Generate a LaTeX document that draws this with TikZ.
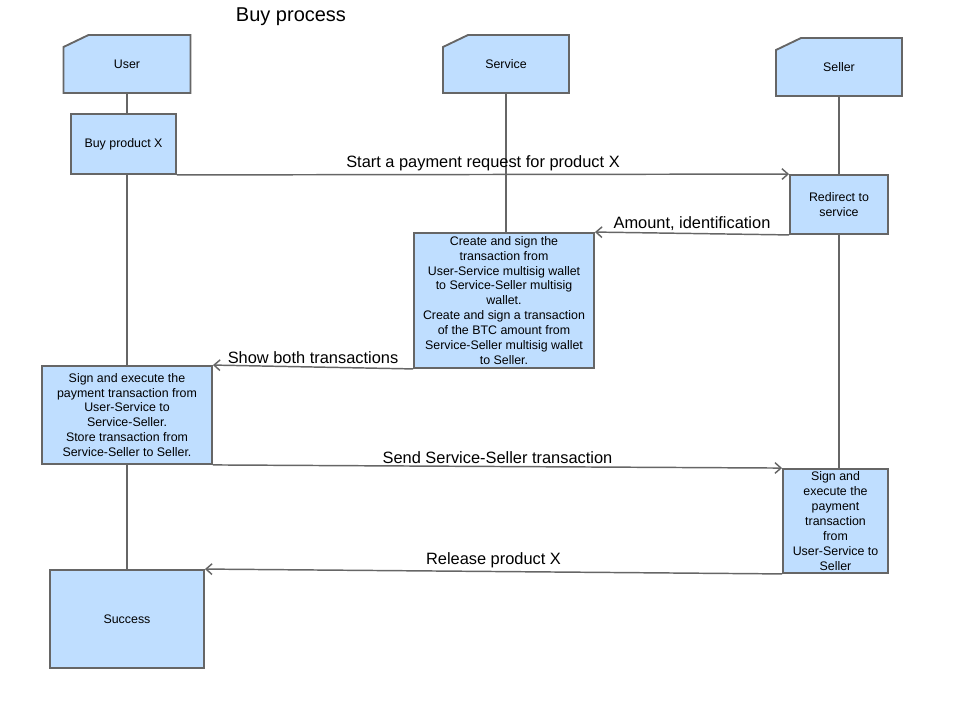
\documentclass[tikz,border=0pt]{standalone}
\usepackage{fontspec}
\setmainfont{Liberation Sans}
\usetikzlibrary{positioning,arrows.meta}
\definecolor{boxblue}{RGB}{191,222,255}
\definecolor{linegray}{RGB}{102,102,102}

\begin{document}
\begin{tikzpicture}[x=0.75pt, y=-0.75pt,
  box/.style={draw=linegray, fill=boxblue, line width=1.4pt, align=center,
              inner sep=1pt, font=\fontsize{9.3}{11.2}\selectfont},
  head/.style={box, draw=none, fill=none, outer sep=0pt},
  card/.style={draw=linegray, fill=boxblue, line width=1.4pt, line join=miter},
  life/.style={draw=linegray, line width=1.1pt},
  fl/.style={life, -{Straight Barb[length=4.5pt, width=8pt]}},
  lbl/.style={font=\fontsize{12.3}{14}\selectfont, above, inner sep=1.8pt}]
\useasboundingbox (0,0) rectangle (954,702);
\node[font=\fontsize{15}{18}\selectfont] (title) at (291,17) {Buy process};
% actors
\node[head, minimum width=95.25pt, minimum height=43.5pt] (user)    at (127,64)  {};
\node[head, minimum width=94.5pt,  minimum height=43.5pt] (service) at (506,64)  {};
\node[head, minimum width=94.5pt,  minimum height=43.5pt] (seller)  at (839,67)  {};
\foreach \a/\t in {user/User, service/Service, seller/Seller} {
  \draw[card] (\a.north west) ++(0,12) -- ++(25,-12) -- (\a.north east)
    -- (\a.south east) -- (\a.south west) -- cycle;
  \node[head] at (\a) {\t};
}
% steps
\node[box, minimum width=78.75pt, minimum height=45pt]   (buy)      at (123.5,144) {Buy product X};
\node[box, minimum width=73.5pt,  minimum height=44.25pt] (redirect) at (839,204.5) {Redirect to\\service};
\node[box, minimum width=135pt,   minimum height=101.25pt] (create) at (504,300.5)
  {Create and sign the\\transaction from\\User-Service multisig wallet\\to Service-Seller multisig\\wallet.\\Create and sign a transaction\\of the BTC amount from\\Service-Seller multisig wallet\\to Seller.};
\node[box, minimum width=127.5pt, minimum height=73.5pt] (usign) at (127,415)
  {Sign and execute the\\payment transaction from\\User-Service to\\Service-Seller.\\Store transaction from\\Service-Seller to Seller.};
\node[box, minimum width=78.75pt, minimum height=78pt] (ssign) at (835.5,521)
  {Sign and\\execute the\\payment\\transaction\\from\\User-Service to\\Seller};
\node[box, minimum width=115.5pt, minimum height=73.5pt] (success) at (127,619) {Success};
% lifelines
\draw[life] (user.south) -- (user.south |- buy.north);
\draw[life] (user.south |- buy.south) -- (user.south |- usign.north);
\draw[life] (user.south |- usign.south) -- (user.south |- success.north);
\draw[life] (service.south) -- (service.south |- create.north);
\draw[life] (seller.south) -- (seller.south |- redirect.north);
\draw[life] (seller.south |- redirect.south) -- (seller.south |- ssign.north);
% messages
\draw[fl] (buy.south east) -- node[lbl] {Start a payment request for product X} (redirect.north west);
\draw[fl] (redirect.south west) -- node[lbl] {Amount, identification} (create.north east);
\draw[fl] (create.south west) -- node[lbl] {Show both transactions} (usign.north east);
\draw[fl] (usign.south east) -- node[lbl] {Send Service-Seller transaction} (ssign.north west);
\draw[fl] (ssign.south west) -- node[lbl] {Release product X} (success.north east);
\end{tikzpicture}
\end{document}
